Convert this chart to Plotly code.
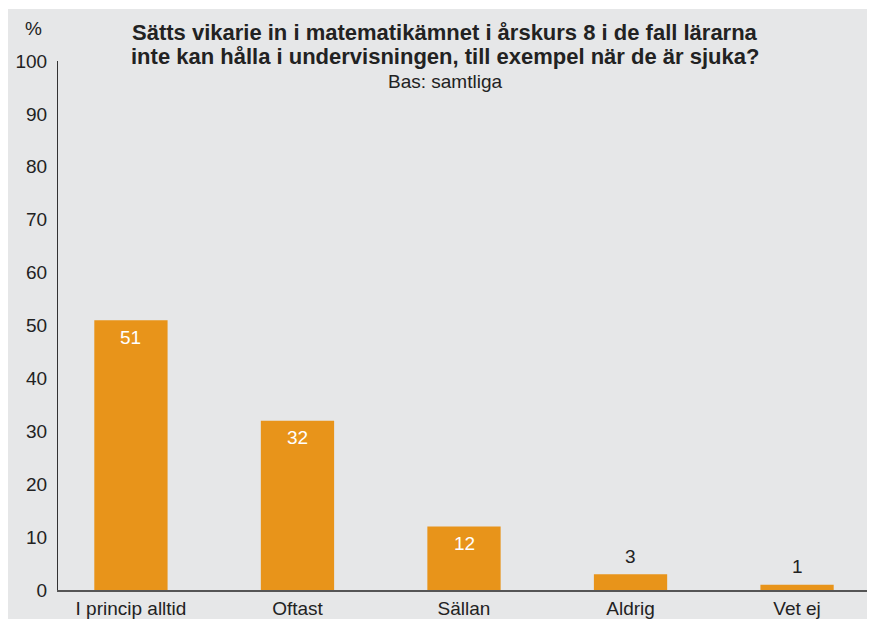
import plotly.graph_objects as go

categories = ["I princip alltid", "Oftast", "Sällan", "Aldrig", "Vet ej"]
values = [51, 32, 12, 3, 1]
label_inside = [True, True, True, False, False]
y_ticks = [0, 10, 20, 30, 40, 50, 60, 70, 80, 90, 100]

title_lines = ["Sätts vikarie in i matematikämnet i årskurs 8 i de fall lärarna",
               "inte kan hålla i undervisningen, till exempel när de är sjuka?"]
subtitle = "Bas: samtliga"
unit_label = "%"

OFF = 8  # page body margin
W, H = 875 - OFF, 622 - OFF
# plot area in page pixels: x 58..869, y 61..590
L = 58 - OFF
R = W - (869 - OFF)
T = 61 - OFF
B = H - (590 - OFF)
pw, ph = W - L - R, H - T - B

def px_x(px):
    return (px - OFF - L) / pw

def px_y(py):
    return (H - B - (py - OFF)) / ph

FONT = "Liberation Sans, Arial, sans-serif"
BAR = "#E8941A"
BG = "#E6E7E8"
TXT = "#222222"

fig = go.Figure()
fig.add_trace(go.Bar(
    x=list(range(len(categories))), y=values,
    marker=dict(color=BAR, line=dict(width=0)),
    width=0.44, hoverinfo="skip",
))

annotations = []
for i, (v, inside) in enumerate(zip(values, label_inside)):
    annotations.append(dict(
        x=i, y=v, xref="x", yref="y", text=str(v), showarrow=False,
        yanchor="middle", yshift=-17 if inside else 18,
        font=dict(family=FONT, size=19, color="white" if inside else TXT),
    ))

annotations.append(dict(x=px_x(445), y=px_y(33), xref="paper", yref="paper",
                        text="<b>" + title_lines[0] + "</b>", showarrow=False,
                        xanchor="center", yanchor="middle",
                        font=dict(family=FONT, size=22, color=TXT)))
annotations.append(dict(x=px_x(445), y=px_y(57), xref="paper", yref="paper",
                        text="<b>" + title_lines[1] + "</b>", showarrow=False,
                        xanchor="center", yanchor="middle",
                        font=dict(family=FONT, size=22, color=TXT)))
annotations.append(dict(x=px_x(445), y=px_y(81), xref="paper", yref="paper",
                        text=subtitle, showarrow=False,
                        xanchor="center", yanchor="middle",
                        font=dict(family=FONT, size=19, color=TXT)))
annotations.append(dict(x=px_x(33), y=px_y(28), xref="paper", yref="paper",
                        text=unit_label, showarrow=False,
                        xanchor="center", yanchor="middle",
                        font=dict(family=FONT, size=19, color=TXT)))

fig.update_layout(
    width=W, height=H,
    margin=dict(l=L, r=R, t=T, b=B, pad=0),
    paper_bgcolor="white", plot_bgcolor=BG,
    showlegend=False,
    font=dict(family=FONT, size=19, color=TXT),
    annotations=annotations,
    shapes=[dict(type="rect", xref="paper", yref="paper", layer="below",
                 x0=px_x(6), x1=px_x(872), y0=px_y(619), y1=px_y(9),
                 fillcolor=BG, line=dict(width=0))],
    xaxis=dict(
        range=[-0.438, 4.432], tickmode="array",
        tickvals=list(range(len(categories))), ticktext=categories,
        showgrid=False, zeroline=False, showline=True,
        linecolor="#555", linewidth=2, ticks="",
        tickfont=dict(family=FONT, size=19, color=TXT),
        automargin=False, fixedrange=True,
    ),
    yaxis=dict(
        range=[0, 100], tickmode="array", tickvals=y_ticks,
        showgrid=False, zeroline=False, showline=True,
        linecolor="#333", linewidth=1, ticks="",
        ticklabelstandoff=6,
        tickfont=dict(family=FONT, size=19, color=TXT),
        automargin=False, fixedrange=True,
    ),
)

fig.write_html("out.html")
